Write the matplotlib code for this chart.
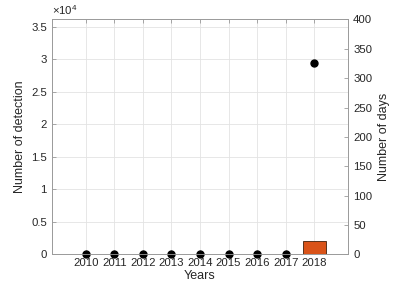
"""Detections and active days per year (two y axes)."""

import matplotlib

matplotlib.use("Agg")

import matplotlib.pyplot as plt

plt.rcParams["font.family"] = ["Liberation Sans", "DejaVu Sans"]
plt.rcParams["mathtext.default"] = "regular"

years = [2010, 2011, 2012, 2013, 2014, 2015, 2016, 2017, 2018]
detections = [0, 0, 0, 0, 0, 0, 0, 0, 29400]
days = [0, 0, 0, 0, 0, 0, 0, 0, 23]

SPINE = "#9a9a9a"
TEXT = "#262626"

fig = plt.figure(figsize=(3.98, 2.90), dpi=100)
ax = fig.add_axes([0.130, 0.123, 0.745, 0.810])
ax2 = ax.twinx()

# grid lives on the left axis, the bar (right axis) sits above it
ax.plot(years, detections, "o", color="black", markersize=5, zorder=3, clip_on=False)
ax2.bar(years, days, width=0.8, color="#D95319", edgecolor="#40200c", linewidth=0.6, zorder=2)

ax.set_xlim(2008.81, 2019.19)
ax.set_xticks(years)
ax.set_xticklabels([str(y) for y in years])
ax.set_ylim(0, 36150)
ax.set_yticks([i * 5000 for i in range(8)])
ax.set_yticklabels(["0", "0.5", "1", "1.5", "2", "2.5", "3", "3.5"])
ax2.set_ylim(0, 400)
ax2.set_yticks(range(0, 401, 50))

ax.grid(True, color="#e3e3e3", linewidth=0.6)
ax.set_axisbelow(True)

for a in (ax, ax2):
    for s in a.spines.values():
        s.set_color(SPINE)
        s.set_linewidth(0.6)
    a.tick_params(direction="in", length=3, width=0.6, color=SPINE,
                  labelsize=8.2, labelcolor=TEXT, top=True)
ax.tick_params(axis="x", pad=3)

ax.set_xlabel("Years", fontsize=9, color=TEXT, labelpad=1)
ax.set_ylabel("Number of detection", fontsize=9, color=TEXT, labelpad=4)
ax2.set_ylabel("Number of days", fontsize=9, color=TEXT, labelpad=4)
ax.text(0.0, 1.012, r"$\times10^{4}$", transform=ax.transAxes, fontsize=8.2,
        color=TEXT, ha="left", va="bottom")

fig.savefig("out.png", dpi=100)
plt.close(fig)
